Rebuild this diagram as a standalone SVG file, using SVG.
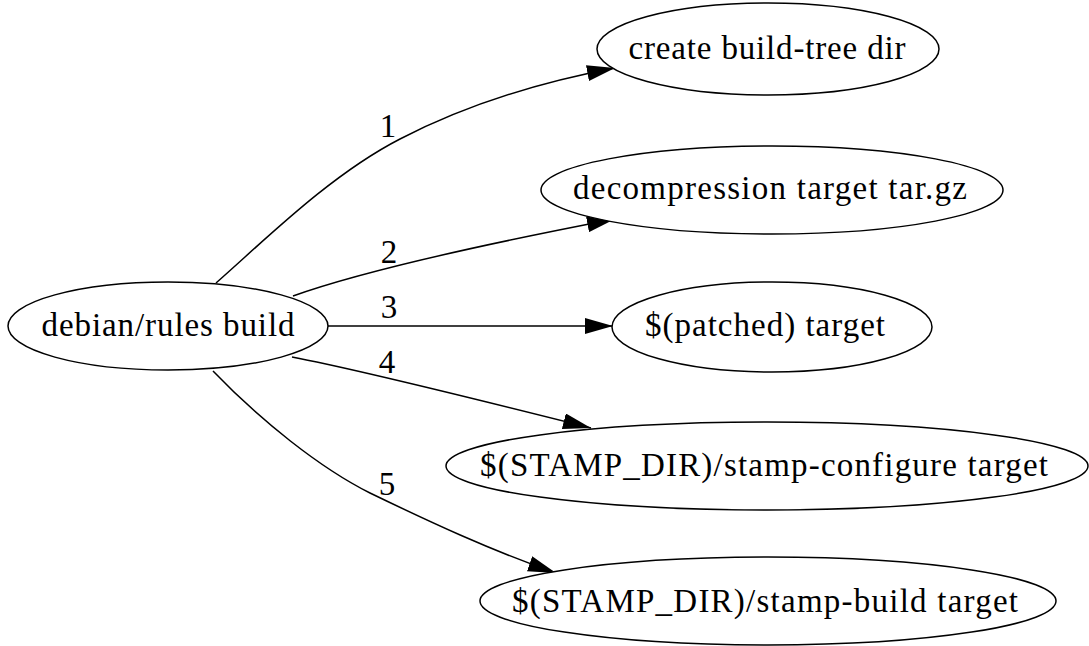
<svg xmlns="http://www.w3.org/2000/svg" width="1089" height="646" viewBox="0 0 1089 646">
  <style>
    .node ellipse { fill: #ffffff; stroke: #000000; stroke-width: 1.5; }
    .node text { font-family: "Liberation Serif", "Times New Roman", serif; font-size: 33px; fill: #000000; text-anchor: middle; }
    .edge { fill: none; stroke: #000000; stroke-width: 1.5; marker-end: url(#arrow); }
    .elabel { font-family: "Liberation Serif", "Times New Roman", serif; font-size: 33px; fill: #000000; text-anchor: middle; }
  </style>
  <defs>
    <marker id="arrow" viewBox="0 0 28 16" refX="28" refY="8" markerWidth="28" markerHeight="16" markerUnits="userSpaceOnUse" orient="auto">
      <path d="M0,0 L28,8 L0,16 Z" fill="#000000"/>
    </marker>
  </defs>
  <rect width="1089" height="646" fill="#ffffff"/>

  <!-- connectors -->
  <g id="edges">
    <path class="edge" d="M216,283 C265,240 330,175 400,139 C460,108 530,84 615,68"/>
    <path class="edge" d="M293,296 C360,272 480,245 615,219"/>
    <path class="edge" d="M328,326 L613,326"/>
    <path class="edge" d="M292,357 C350,368 460,395 591,428"/>
    <path class="edge" d="M213,371 C260,420 320,468 370,493 C430,522 490,550 556,573"/>
    <text class="elabel" x="388" y="137">1</text>
    <text class="elabel" x="389" y="263">2</text>
    <text class="elabel" x="389" y="318">3</text>
    <text class="elabel" x="387" y="373">4</text>
    <text class="elabel" x="387" y="495">5</text>
  </g>

  <!-- nodes -->
  <g id="build" class="node">
    <ellipse cx="168" cy="326" rx="160" ry="44"/>
    <text x="168" y="336" textLength="253" lengthAdjust="spacing">debian/rules build</text>
  </g>
  <g id="create_dir" class="node">
    <ellipse cx="768" cy="49" rx="171" ry="46"/>
    <text x="767" y="59" textLength="277" lengthAdjust="spacing">create build-tree dir</text>
  </g>
  <g id="decompress" class="node">
    <ellipse cx="772" cy="190" rx="231" ry="44"/>
    <text x="770" y="199" textLength="394" lengthAdjust="spacing">decompression target tar.gz</text>
  </g>
  <g id="patched" class="node">
    <ellipse cx="772" cy="327" rx="160" ry="45"/>
    <text x="765" y="336" textLength="240" lengthAdjust="spacing">$(patched) target</text>
  </g>
  <g id="stamp_configure" class="node">
    <ellipse cx="767" cy="466" rx="321" ry="44"/>
    <text x="764" y="476" textLength="568" lengthAdjust="spacing">$(STAMP_DIR)/stamp-configure target</text>
  </g>
  <g id="stamp_build" class="node">
    <ellipse cx="768" cy="601" rx="288" ry="44"/>
    <text x="765" y="612" textLength="506" lengthAdjust="spacing">$(STAMP_DIR)/stamp-build target</text>
  </g>
</svg>
